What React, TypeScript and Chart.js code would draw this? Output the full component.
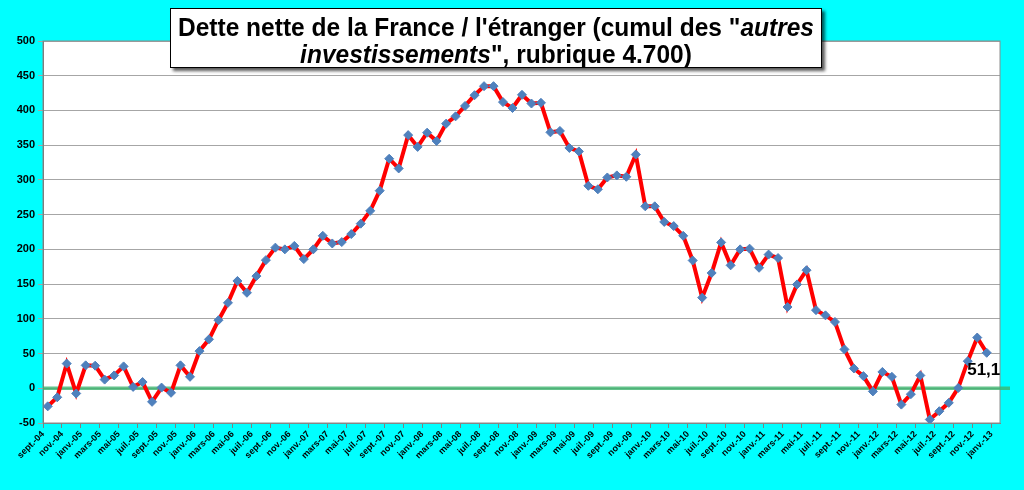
import { useEffect, useRef } from "react";
import Chart from "chart.js/auto";

// encours net mensuel, sept.-04 -> déc.-12 (milliards d'euros)
const values: number[] = [
  -26, -13, 35.5, -7.5, 33, 32.5, 12.5, 18.5, 31.5, 2,
  9, -19.5, 1, -6.5, 33, 16.5, 53.5, 70.5, 98, 123,
  154.5, 137.5, 161.5, 184.5, 202.5, 200, 205, 186, 200, 219.5,
  208.5, 210.5, 222, 237, 255.5, 284.5, 330.5, 316.5, 364.5, 347.5,
  368, 356, 381, 391.5, 406.5, 422, 435, 435, 412, 403.5,
  422.5, 410, 411, 368.5, 370.5, 346, 341, 291.5, 286.5, 303.5,
  306.5, 304.5, 336.5, 262, 262, 239.5, 233.5, 219.5, 184, 130.5,
  166, 210, 177, 200, 201, 173.5, 192.5, 187.5, 117, 149.5,
  170, 112.5, 105, 95.5, 56, 28.5, 17.5, -4.5, 23.5, 16.5,
  -23.5, -8.5, 18.5, -45, -33, -21, 0.5, 39, 73, 51.1,
];

// one label every two months
const tickLabels: string[] = [
  "sept.-04", "nov.-04",
  "janv.-05", "mars-05", "mai-05", "juil.-05", "sept.-05", "nov.-05",
  "janv.-06", "mars-06", "mai-06", "juil.-06", "sept.-06", "nov.-06",
  "janv.-07", "mars-07", "mai-07", "juil.-07", "sept.-07", "nov.-07",
  "janv.-08", "mars-08", "mai-08", "juil.-08", "sept.-08", "nov.-08",
  "janv.-09", "mars-09", "mai-09", "juil.-09", "sept.-09", "nov.-09",
  "janv.-10", "mars-10", "mai-10", "juil.-10", "sept.-10", "nov.-10",
  "janv.-11", "mars-11", "mai-11", "juil.-11", "sept.-11", "nov.-11",
  "janv.-12", "mars-12", "mai-12", "juil.-12", "sept.-12", "nov.-12",
  "janv.-13",
];

const titleLines = [
  [
    { text: "Dette nette de la France / l'étranger (cumul des \"", italic: false },
    { text: "autres", italic: true },
  ],
  [
    { text: "investissements", italic: true },
    { text: "\", rubrique 4.700)", italic: false },
  ],
];

const FONT = "'Liberation Sans', Arial, sans-serif";

const framePlugin = {
  id: "frame",
  beforeDraw(chart: any) {
    const { ctx, chartArea } = chart;
    ctx.save();
    ctx.fillStyle = "#ffffff";
    ctx.fillRect(chartArea.left, chartArea.top, chartArea.right - chartArea.left, chartArea.bottom - chartArea.top);
    ctx.restore();
  },
  beforeDatasetsDraw(chart: any) {
    const { ctx, chartArea, scales } = chart;
    ctx.save();
    ctx.strokeStyle = "#8c8c8c";
    ctx.lineWidth = 1;
    ctx.strokeRect(chartArea.left, chartArea.top, chartArea.right - chartArea.left, chartArea.bottom - chartArea.top);
    const y0 = scales.y.getPixelForValue(0);
    ctx.strokeStyle = "rgba(60,180,110,0.8)";
    ctx.lineWidth = 3.5;
    ctx.beginPath();
    ctx.moveTo(chartArea.left, y0);
    ctx.lineTo(chartArea.right + 10, y0);
    ctx.stroke();
    ctx.restore();
  },
  afterDatasetsDraw(chart: any) {
    const { ctx } = chart;
    const meta = chart.getDatasetMeta(0);
    const last = meta.data[meta.data.length - 1];
    ctx.save();
    ctx.font = `bold 17px ${FONT}`;
    ctx.fillStyle = "#000";
    ctx.textAlign = "center";
    ctx.textBaseline = "middle";
    ctx.fillText(String(values[values.length - 1]).replace(".", ","), last.x - 3, last.y + 18);
    ctx.restore();
  },
  afterDraw(chart: any) {
    const { ctx } = chart;
    const bx = 170, by = 8, bw = 652, bh = 60;
    ctx.save();
    ctx.shadowColor = "rgba(0,0,0,0.65)";
    ctx.shadowOffsetX = 3;
    ctx.shadowOffsetY = 3;
    ctx.shadowBlur = 3;
    ctx.fillStyle = "#fff";
    ctx.fillRect(bx, by, bw, bh);
    ctx.shadowColor = "transparent";
    ctx.strokeStyle = "#000";
    ctx.lineWidth = 1;
    ctx.strokeRect(bx + 0.5, by + 0.5, bw - 1, bh - 1);

    const size = 25;
    const fontOf = (italic: boolean) => `${italic ? "italic " : ""}bold ${size}px ${FONT}`;
    const widthOf = (line: { text: string; italic: boolean }[]) =>
      line.reduce((w, r) => {
        ctx.font = fontOf(r.italic);
        return w + ctx.measureText(r.text).width;
      }, 0);
    const sx = Math.min(1, 636 / widthOf(titleLines[0]));
    const cx = bx + bw / 2;
    const baselines = [36, 63];
    ctx.fillStyle = "#000";
    ctx.textBaseline = "alphabetic";
    ctx.textAlign = "left";
    titleLines.forEach((line, k) => {
      const w = widthOf(line) * sx;
      let x = cx - w / 2;
      line.forEach((r) => {
        ctx.font = fontOf(r.italic);
        ctx.save();
        ctx.translate(x, baselines[k]);
        ctx.scale(sx, 1);
        ctx.fillText(r.text, 0, 0);
        ctx.restore();
        x += ctx.measureText(r.text).width * sx;
      });
    });
    ctx.restore();
  },
};

function DebtChart() {
  const canvasRef = useRef<HTMLCanvasElement>(null);

  useEffect(() => {
    if (!canvasRef.current) return;
    const ctx = canvasRef.current.getContext("2d");
    if (!ctx) return;
    const chart = new Chart(ctx, {
      type: "line",
      data: {
        datasets: [
          {
            data: values.map((v, i) => ({ x: i + 0.5, y: v })),
            borderColor: "#ff0000",
            borderWidth: 4,
            tension: 0,
            pointStyle: "rectRot",
            pointRadius: 4.5,
            pointBackgroundColor: "#4f81bd",
            pointBorderColor: "#4f81bd",
            pointBorderWidth: 1,
          },
        ],
      },
      options: {
        animation: false,
        responsive: true,
        maintainAspectRatio: false,
        layout: { padding: { top: 41, right: 24, left: 0, bottom: 0 } },
        plugins: {
          legend: { display: false },
          tooltip: { enabled: false },
          title: { display: false },
        },
        scales: {
          x: {
            type: "linear",
            min: 0,
            max: 100.9,
            afterBuildTicks: (scale: any) => {
              scale.ticks = tickLabels.map((_, k) => ({ value: k * 2 }));
            },
            afterFit: (scale: any) => {
              scale.height = 67;
            },
            ticks: {
              autoSkip: false,
              maxRotation: 45,
              minRotation: 45,
              padding: 1,
              color: "#000",
              font: { family: FONT, size: 9, weight: "bold" },
              callback: (_v: any, i: number) => tickLabels[i],
            },
            grid: { drawOnChartArea: false, tickLength: 5, color: "#808080" },
            border: { color: "#808080" },
          },
          y: {
            min: -50,
            max: 500,
            afterFit: (scale: any) => {
              scale.width = 43;
            },
            ticks: {
              stepSize: 50,
              padding: 3,
              color: "#000",
              font: { family: FONT, size: 11, weight: "bold" },
            },
            grid: { color: "#a6a6a6", tickLength: 5 },
            border: { color: "#707070" },
          },
        },
      },
      plugins: [framePlugin],
    });
    return () => chart.destroy();
  }, []);

  return <canvas ref={canvasRef} />;
}

export default function App() {
  return (
    <div style={{ position: "absolute", left: 0, top: 0, width: 1024, height: 490, background: "#00ffff" }}>
      <DebtChart />
    </div>
  );
}
